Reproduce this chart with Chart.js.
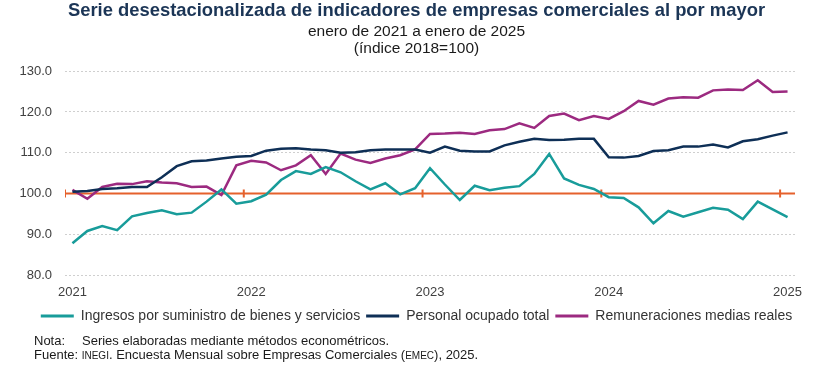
<!DOCTYPE html>
<html>
<head>
<meta charset="utf-8">
<script src="https://cdn.jsdelivr.net/npm/chart.js@4.4.1/dist/chart.umd.min.js"></script>
<style>
    body { margin: 0; background: #fff; }
    #wrap { position: relative; width: 819px; height: 367px; }
    #notes {
        position: absolute; left: 34px; top: 334px;
        font-family: "Liberation Sans", Arial, sans-serif;
        font-size: 13px; line-height: 13.5px; color: #1a1a1a;
    }
    #notes .lbl { display: inline-block; width: 48px; }
    #notes .sc { font-size: 10px; }
</style>
</head>
<body>
<div id="wrap">
    <canvas id="chart" width="819" height="367"></canvas>
    <div id="notes">
        <div><span class="lbl">Nota:</span>Series elaboradas mediante métodos econométricos.</div>
        <div>Fuente: <span class="sc">INEGI</span>. Encuesta Mensual sobre Empresas Comerciales (<span class="sc">EMEC</span>), 2025.</div>
    </div>
</div>
<script>
// Datos mensuales: enero 2021 (0) a enero 2025 (48)
const yearLabels = ['2021', '2022', '2023', '2024', '2025'];
const yearIndex = [0, 12, 24, 36, 48];

const ingresos = [
    87.8, 90.8, 92.0, 91.0, 94.4, 95.2, 95.9, 94.9, 95.3, 98.0, 101.0, 97.5,
    98.1, 99.7, 103.3, 105.5, 104.8, 106.5, 105.2, 103.0, 101.0, 102.5, 99.8, 101.3,
    106.2, 102.2, 98.4, 101.9, 100.8, 101.4, 101.8, 104.8, 109.7, 103.7, 102.1, 101.1,
    99.1, 98.9, 96.6, 92.7, 95.7, 94.3, 95.4, 96.5, 96.0, 93.7, 98.0, 96.1,
    94.2
];
const personal = [
    100.4, 100.6, 101.1, 101.3, 101.6, 101.6, 104.0, 106.7, 107.9, 108.1, 108.6, 109.0,
    109.2, 110.5, 111.0, 111.1, 110.8, 110.6, 110.0, 110.1, 110.6, 110.8, 110.8, 110.8,
    110.0, 111.5, 110.5, 110.3, 110.3, 111.8, 112.7, 113.4, 113.1, 113.2, 113.4, 113.4,
    108.9, 108.8, 109.2, 110.4, 110.6, 111.5, 111.5, 112.0, 111.3, 112.8, 113.3, 114.2,
    115.0
];
const remuneraciones = [
    100.9, 98.7, 101.6, 102.4, 102.3, 103.0, 102.7, 102.5, 101.6, 101.7, 99.6, 106.9,
    108.0, 107.6, 105.7, 106.9, 109.4, 104.8, 109.8, 108.3, 107.5, 108.6, 109.4, 110.8,
    114.6, 114.7, 114.9, 114.6, 115.5, 115.8, 117.2, 116.1, 119.0, 119.6, 118.0, 119.0,
    118.3, 120.2, 122.7, 121.8, 123.3, 123.6, 123.5, 125.3, 125.5, 125.4, 127.8, 124.9,
    125.0
];

// Línea de referencia en 100 con marcas entre diciembre y enero
const refX = [-0.5, 11.5, 23.5, 35.5, 47.5, 48.5];
const refTick = [4, 4, 4, 4, 4, 0];
const refValue = 100;

const yTicks = [80, 90, 100, 110, 120, 130];

const COLORS = {
    ingresos: '#189c9a',
    personal: '#0e2f56',
    remuneraciones: '#9c2a80',
    ref: '#e5612c'
};

const toPoints = arr => arr.map((v, i) => ({ x: i, y: v }));

const FONT = '"Liberation Sans", Arial, sans-serif';

function lineSet(label, values, color) {
    return {
        label: label,
        data: toPoints(values),
        borderColor: color,
        backgroundColor: color,
        borderWidth: 2.5,
        pointRadius: 0,
        tension: 0
    };
}

new Chart(document.getElementById('chart'), {
    type: 'line',
    data: {
        datasets: [
            lineSet('Ingresos por suministro de bienes y servicios', ingresos, COLORS.ingresos),
            lineSet('Personal ocupado total', personal, COLORS.personal),
            lineSet('Remuneraciones medias reales', remuneraciones, COLORS.remuneraciones),
            {
                label: 'ref',
                data: refX.map(x => ({ x: x, y: refValue })),
                borderColor: COLORS.ref,
                backgroundColor: COLORS.ref,
                borderWidth: 2,
                pointStyle: 'line',
                rotation: 90,
                pointRadius: refTick,
                pointBorderWidth: 2,
                order: 10
            }
        ]
    },
    options: {
        responsive: false,
        animation: false,
        layout: { padding: { left: 14, right: 0, top: 0, bottom: 34 } },
        plugins: {
            title: {
                display: true,
                text: 'Serie desestacionalizada de indicadores de empresas comerciales al por mayor',
                color: '#1b3556',
                font: { family: FONT, size: 18.4, weight: 'bold', lineHeight: 1.2 },
                padding: { top: 0, bottom: 0 }
            },
            subtitle: {
                display: true,
                text: ['enero de 2021 a enero de 2025', '(índice 2018=100)'],
                color: '#1a1a1a',
                font: { family: FONT, size: 15.5, lineHeight: 1.085 },
                padding: { top: 1, bottom: 14.5 }
            },
            legend: {
                position: 'bottom',
                labels: {
                    font: { family: FONT, size: 14 },
                    color: '#333',
                    boxWidth: 33,
                    boxHeight: 3,
                    padding: 6,
                    generateLabels: chart => Chart.defaults.plugins.legend.labels
                        .generateLabels(chart)
                        .filter(l => l.datasetIndex < 3)
                        .map(l => ({ ...l, lineWidth: 0, fillStyle: l.strokeStyle }))
                }
            },
            tooltip: { enabled: false }
        },
        scales: {
            x: {
                type: 'linear',
                min: -0.5,
                max: 48.5,
                grid: { display: false, drawTicks: false },
                border: { display: false },
                afterBuildTicks: scale => {
                    scale.ticks = yearIndex.map(v => ({ value: v }));
                },
                afterFit: scale => { scale.height = 28; },
                ticks: {
                    autoSkip: false,
                    maxRotation: 0,
                    padding: 10,
                    color: '#404040',
                    font: { family: FONT, size: 13 },
                    callback: v => yearLabels[yearIndex.indexOf(v)]
                }
            },
            y: {
                min: 80,
                max: 130,
                grid: { color: '#cfcfcf', lineWidth: 1, drawTicks: false },
                border: { display: false, dash: [2, 2] },
                afterBuildTicks: scale => {
                    scale.ticks = yTicks.map(v => ({ value: v }));
                },
                afterFit: scale => { scale.width = 51; },
                ticks: {
                    padding: 13,
                    color: '#404040',
                    font: { family: FONT, size: 13 },
                    callback: v => v.toFixed(1)
                }
            },
            // eje vacío a la derecha para dejar margen y centrar título
            yR: {
                position: 'right',
                min: 0,
                max: 1,
                grid: { display: false, drawTicks: false },
                border: { display: false },
                ticks: { display: false },
                afterFit: scale => { scale.width = 24; }
            }
        }
    }
});
</script>
</body>
</html>
